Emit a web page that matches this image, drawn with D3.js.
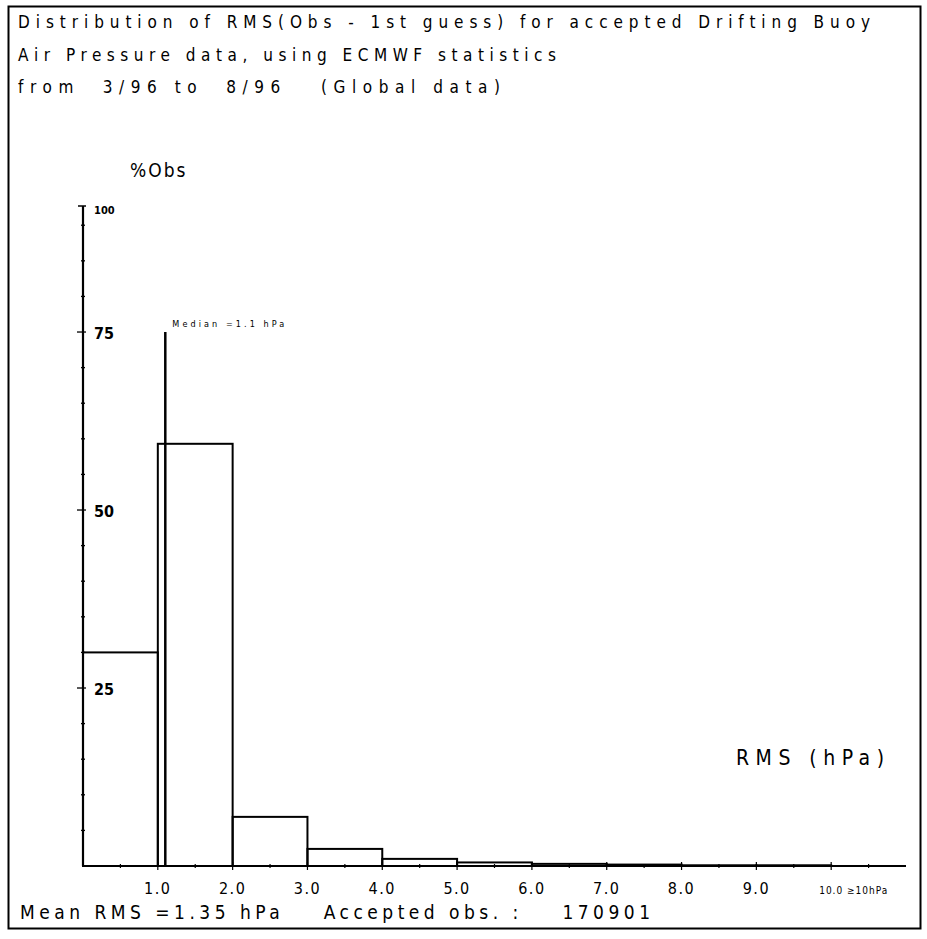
<!DOCTYPE html>
<html><head><meta charset="utf-8">
<script src="https://cdn.jsdelivr.net/npm/d3@7/dist/d3.min.js"></script>
<style>
body{margin:0;background:#fff;}
text{font-family:"DejaVu Sans Condensed","DejaVu Sans",sans-serif;font-stretch:condensed;fill:#000;white-space:pre;}
</style></head>
<body><svg id="c" width="927" height="939"></svg>
<script>
const binStarts = [0,1,2,3,4,5,6,7,8,9];
const binWidth = 1;
const pctObs = [30.0, 59.3, 6.9, 2.4, 1.0, 0.5, 0.3, 0.2, 0.1, 0.1];
const xTickValues = [1,2,3,4,5,6,7,8,9,10];
const xTickLabels = ["1.0","2.0","3.0","4.0","5.0","6.0","7.0","8.0","9.0","10.0 ≥10hPa"];
const yTickValues = [25,50,75];
const yTickLabels = ["25","50","75"];
const yTopLabel = "100";
const median = 1.1;
const medianTop = 75;
const titleLines = [
  "Distribution of RMS(Obs - 1st guess) for accepted Drifting Buoy",
  "Air Pressure data, using ECMWF statistics",
  "from  3/96 to  8/96   (Global data)"
];
const titleWidths = [852, 538, 482];

const svg = d3.select("#c");
const x = d3.scaleLinear().domain([0, 11]).range([83, 906]);
const y = d3.scaleLinear().domain([0, 92.7]).range([866, 206]);

// frame
svg.append("rect").attr("x",8.5).attr("y",6.5).attr("width",912).attr("height",922)
  .attr("fill","none").attr("stroke","#000").attr("stroke-width",2);

// titles
const ty = [28, 61, 93];
titleLines.forEach((t,i)=>{
  svg.append("text").attr("x",18).attr("y",ty[i]).attr("font-size",17)
    .attr("textLength",titleWidths[i]).attr("lengthAdjust","spacing").text(t);
});

// bars
svg.append("g").selectAll("rect").data(binStarts).join("rect")
  .attr("x", d=>x(d)).attr("width", d=>x(d+binWidth)-x(d))
  .attr("y", (d,i)=>y(pctObs[i])).attr("height",(d,i)=>y(0)-y(pctObs[i]))
  .attr("fill","none").attr("stroke","#000").attr("stroke-width",2);

// y axis
const g = svg.append("g");
g.append("line").attr("x1",x(0)).attr("x2",x(0)).attr("y1",y(0)).attr("y2",y(92.7))
  .attr("stroke","#000").attr("stroke-width",2.2);
g.append("line").attr("x1",x(0)-5).attr("x2",x(0)+3).attr("y1",y(92.7)).attr("y2",y(92.7)).attr("stroke","#000").attr("stroke-width",1.5);
d3.range(5,92,5).forEach(v=>{
  const major = yTickValues.includes(v);
  g.append("line").attr("x1",x(0)-(major?6:2)).attr("x2",x(0)+(major?3:2))
    .attr("y1",y(v)).attr("y2",y(v)).attr("stroke","#000").attr("stroke-width",1.3);
});
yTickValues.forEach((v,i)=>{
  g.append("text").attr("x",x(0)+11).attr("y",y(v)+7).attr("font-size",16).attr("font-weight","bold")
    .text(yTickLabels[i]);
});
g.append("text").attr("x",x(0)+11).attr("y",y(92.7)+8).attr("font-size",11).attr("font-weight","bold").text(yTopLabel);
svg.append("text").attr("x",130).attr("y",177).attr("font-size",19).attr("letter-spacing",2).text("%Obs");

// x axis
svg.append("line").attr("x1",x(0)).attr("x2",x(11)).attr("y1",y(0)).attr("y2",y(0))
  .attr("stroke","#000").attr("stroke-width",2.2);
d3.range(0.5,11,0.5).forEach(v=>{
  const major = Number.isInteger(v);
  svg.append("line").attr("x1",x(v)).attr("x2",x(v)).attr("y1",y(0)-(major?4:2)).attr("y2",y(0)+(major?4:2))
    .attr("stroke","#000").attr("stroke-width",1.2);
});
xTickValues.forEach((v,i)=>{
  const last = i===xTickValues.length-1;
  svg.append("text").attr("x",last?x(v)-12:x(v)).attr("y",894)
    .attr("text-anchor",last?"start":"middle")
    .attr("font-size",last?10:16).attr("letter-spacing",last?1:1.5).text(xTickLabels[i]);
});
svg.append("text").attr("x",736).attr("y",765).attr("font-size",21)
  .attr("textLength",148).attr("lengthAdjust","spacing").text("RMS (hPa)");

// median
svg.append("line").attr("x1",x(median)).attr("x2",x(median)).attr("y1",y(medianTop)).attr("y2",y(0))
  .attr("stroke","#000").attr("stroke-width",2.5);
svg.append("text").attr("x",x(median)+7).attr("y",y(medianTop)-5).attr("font-size",9)
  .attr("textLength",112).attr("lengthAdjust","spacing").text("Median =1.1 hPa");

// footer
svg.append("text").attr("x",20).attr("y",919).attr("font-size",19)
  .attr("textLength",630).attr("lengthAdjust","spacing")
  .text("Mean RMS =1.35 hPa    Accepted obs. :    170901");
</script></body></html>
